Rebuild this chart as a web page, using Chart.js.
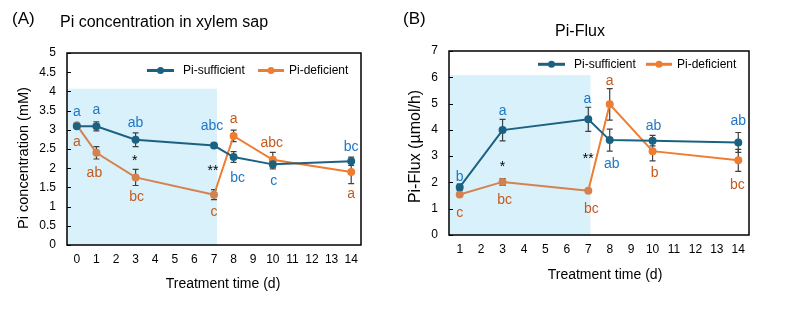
<!DOCTYPE html>
<html>
<head>
<meta charset="utf-8">
<script src="https://cdn.jsdelivr.net/npm/chart.js@4/dist/chart.umd.min.js"></script>
<style>
    body { margin: 0; background: #ffffff; }
    #wrap { position: relative; width: 809px; height: 328px; }
    #chart_conc { position: absolute; left: 0; top: 0; }
    #chart_flux { position: absolute; left: 400px; top: 0; }
</style>
</head>
<body>
<div id="wrap">
    <canvas id="chart_conc" width="400" height="328"></canvas>
    <canvas id="chart_flux" width="409" height="328"></canvas>
</div>
<script>
'use strict';

/******************************************************************************************
DATA
******************************************************************************************/

// (A) Pi concentration in xylem sap, mM
var days_conc = [0, 1, 3, 7, 8, 10, 14];
var conc_sufficient = [3.09, 3.09, 2.74, 2.59, 2.29, 2.10, 2.18];
var conc_sufficient_err = [0.03, 0.12, 0.18, 0.06, 0.14, 0.12, 0.11];
var conc_deficient = [3.12, 2.40, 1.76, 1.31, 2.84, 2.22, 1.90];
var conc_deficient_err = [0.03, 0.16, 0.21, 0.13, 0.15, 0.19, 0.30];
var conc_letters_sufficient = ['a', 'a', 'ab', 'abc', 'bc', 'c', 'bc'];
var conc_letters_deficient = ['a', 'ab', 'bc', 'c', 'a', 'abc', 'a'];
var conc_stars = ['', '', '*', '**', '', '', ''];
var conc_x_ticks = [0, 1, 2, 3, 4, 5, 6, 7, 8, 9, 10, 11, 12, 13, 14];
var conc_y_ticks = [0, 0.5, 1, 1.5, 2, 2.5, 3, 3.5, 4, 4.5, 5];

// (B) Pi-Flux, umol/h
var days_flux = [1, 3, 7, 8, 10, 14];
var flux_sufficient = [1.82, 3.99, 4.40, 3.61, 3.59, 3.52];
var flux_sufficient_err = [0.12, 0.41, 0.46, 0.42, 0.20, 0.38];
var flux_deficient = [1.54, 2.02, 1.68, 4.97, 3.19, 2.84];
var flux_deficient_err = [0.05, 0.13, 0.05, 0.60, 0.37, 0.42];
var flux_letters_sufficient = ['b', 'a', 'a', 'ab', 'ab', 'ab'];
var flux_letters_deficient = ['c', 'bc', 'bc', 'a', 'b', 'bc'];
var flux_stars = ['', '*', '**', '', '', ''];
var flux_x_ticks = [1, 2, 3, 4, 5, 6, 7, 8, 9, 10, 11, 12, 13, 14];
var flux_y_ticks = [0, 1, 2, 3, 4, 5, 6, 7];

// Pi-deficient treatment period (shaded), day 0 to day 7
var treatment_end_day = 7;


/******************************************************************************************
STYLE
******************************************************************************************/

var FONT = '"Liberation Sans", Arial, sans-serif';
var TEAL = '#1b6282';
var ORANGE = '#ee7d31';
var ORANGE_SHADED = '#d5824f';
var LETTER_BLUE = '#1f77c6';
var LETTER_ORANGE = '#c65a1c';
var ERR_COLOR = '#404040';
var SHADE = '#d9f1fa';


/******************************************************************************************
HELPERS
******************************************************************************************/

function to_points(xs, ys) {
    return xs.map(function(x, i) { return { x: x, y: ys[i] }; });
}

function draw_error_bars(chart, days, values, errors) {
    var c = chart.ctx, sx = chart.scales.x, sy = chart.scales.y;
    c.save();
    c.strokeStyle = ERR_COLOR;
    c.lineWidth = 1.2;
    for (var i = 0; i < days.length; i++) {
        var x = sx.getPixelForValue(days[i]);
        var y1 = sy.getPixelForValue(values[i] + errors[i]);
        var y2 = sy.getPixelForValue(values[i] - errors[i]);
        c.beginPath();
        c.moveTo(x, y1); c.lineTo(x, y2);
        c.moveTo(x - 3, y1); c.lineTo(x + 3, y1);
        c.moveTo(x - 3, y2); c.lineTo(x + 3, y2);
        c.stroke();
    }
    c.restore();
}

function draw_letters(chart, days, values, letters, offsets, color) {
    var c = chart.ctx, sx = chart.scales.x, sy = chart.scales.y;
    c.save();
    c.fillStyle = color;
    c.font = '14px ' + FONT;
    c.textAlign = 'center';
    c.textBaseline = 'middle';
    for (var i = 0; i < days.length; i++) {
        c.fillText(letters[i], sx.getPixelForValue(days[i]) + offsets[i][0], sy.getPixelForValue(values[i]) + offsets[i][1]);
    }
    c.restore();
}

function draw_stars(chart, days, v1, v2, stars, offsets) {
    var c = chart.ctx, sx = chart.scales.x, sy = chart.scales.y;
    c.save();
    c.fillStyle = '#000000';
    c.font = '14px ' + FONT;
    c.textAlign = 'center';
    c.textBaseline = 'middle';
    for (var i = 0; i < days.length; i++) {
        if (!stars[i]) continue;
        var mid = (v1[i] + v2[i]) / 2;                                                        // between both series
        c.fillText(stars[i], sx.getPixelForValue(days[i]) + offsets[i][0], sy.getPixelForValue(mid) + offsets[i][1]);
    }
    c.restore();
}

function draw_legend_item(c, item) {
    c.strokeStyle = item.color;
    c.lineWidth = 3;
    c.beginPath();
    c.moveTo(item.x0, item.y); c.lineTo(item.x1, item.y);
    c.stroke();
    c.fillStyle = item.color;
    c.beginPath();
    c.arc((item.x0 + item.x1) / 2, item.y, 3.5, 0, Math.PI * 2);
    c.fill();
    c.fillStyle = '#000000';
    c.font = '12px ' + FONT;
    c.textAlign = 'left';
    c.textBaseline = 'middle';
    c.fillText(item.text, item.tx, item.y);
}

// everything that is not a plain line: shading, error bars, frame, letters, titles, legend
function make_extras(p) {
    return {
        id: 'extras',
        beforeDatasetsDraw: function(chart) {
            var c = chart.ctx, a = chart.chartArea, sx = chart.scales.x, sy = chart.scales.y;
            var x_end = sx.getPixelForValue(treatment_end_day + p.shade_extra);
            var y_top = sy.getPixelForValue(p.shade_top);
            c.save();
            c.fillStyle = SHADE;
            c.fillRect(a.left, y_top, x_end - a.left, a.bottom - y_top);
            c.restore();
            draw_error_bars(chart, p.days, p.suf, p.suf_err);
            draw_error_bars(chart, p.days, p.def, p.def_err);
        },
        afterDatasetsDraw: function(chart) {
            var c = chart.ctx, a = chart.chartArea, sy = chart.scales.y;
            c.save();
            // inner y tick marks
            c.strokeStyle = '#000000';
            c.lineWidth = 1;
            sy.ticks.forEach(function(t) {
                var y = Math.round(sy.getPixelForValue(t.value)) + 0.5;
                c.beginPath(); c.moveTo(a.left, y); c.lineTo(a.left + 4, y); c.stroke();
            });
            // frame
            c.lineWidth = 1.5;
            c.strokeRect(a.left, a.top, a.right - a.left, a.bottom - a.top);
            c.restore();
            draw_letters(chart, p.days, p.suf, p.suf_letters, p.suf_offsets, LETTER_BLUE);
            draw_letters(chart, p.days, p.def, p.def_letters, p.def_offsets, LETTER_ORANGE);
            draw_stars(chart, p.days, p.suf, p.def, p.stars, p.star_offsets);
        },
        afterDraw: function(chart) {
            var c = chart.ctx;
            c.save();
            c.fillStyle = '#000000';
            c.textBaseline = 'alphabetic';
            // panel tag and title
            c.font = '17px ' + FONT;
            c.textAlign = 'left';
            c.fillText(p.tag, p.tag_x, 23.5);
            c.font = '16px ' + FONT;
            c.textAlign = p.title_align;
            c.fillText(p.title, p.title_x, p.title_y);
            // axis titles
            c.font = '14px ' + FONT;
            c.textAlign = 'center';
            c.textBaseline = 'middle';
            c.fillText('Treatment time (d)', p.x_title_x, p.x_title_y);
            c.save();
            c.translate(p.y_title_x, p.y_title_y);
            c.rotate(-Math.PI / 2);
            c.font = p.y_title_size + 'px ' + FONT;
            c.fillText(p.y_title, 0, 0);
            c.restore();
            // legend
            draw_legend_item(c, { x0: p.leg_x, x1: p.leg_x + 27, y: p.leg_y, color: TEAL, text: 'Pi-sufficient', tx: p.leg_x + 36 });
            draw_legend_item(c, { x0: p.leg_x2, x1: p.leg_x2 + 26, y: p.leg_y, color: ORANGE, text: 'Pi-deficient', tx: p.leg_x2 + 31 });
            c.restore();
        }
    };
}

function make_chart(canvas_id, p) {
    var ctx = document.getElementById(canvas_id).getContext('2d');
    var tick_font = { family: FONT, size: 12 };
    return new Chart(ctx, {
        type: 'line',
        data: {
            datasets: [{
                label: 'Pi-sufficient',
                data: to_points(p.days, p.suf),
                borderColor: TEAL,
                backgroundColor: TEAL,
                pointBackgroundColor: TEAL,
                pointBorderColor: TEAL,
                borderWidth: 2,
                pointRadius: 3,
                tension: 0
            }, {
                label: 'Pi-deficient',
                data: to_points(p.days, p.def),
                borderColor: ORANGE,
                backgroundColor: ORANGE,
                // muted orange inside the shaded treatment period
                segment: {
                    borderColor: function(s) { return s.p1.parsed.x <= treatment_end_day ? ORANGE_SHADED : ORANGE; }
                },
                pointBackgroundColor: function(c) { return c.parsed && c.parsed.x <= treatment_end_day ? ORANGE_SHADED : ORANGE; },
                pointBorderColor: function(c) { return c.parsed && c.parsed.x <= treatment_end_day ? ORANGE_SHADED : ORANGE; },
                borderWidth: 2,
                pointRadius: 3,
                tension: 0
            }]
        },
        options: {
            responsive: false,
            animation: false,
            layout: { padding: p.padding },
            plugins: { legend: { display: false }, tooltip: { enabled: false } },
            scales: {
                x: {
                    type: 'linear',
                    min: p.x_ticks[0] - 0.5,
                    max: p.x_ticks[p.x_ticks.length - 1] + 0.5,
                    afterBuildTicks: function(s) { s.ticks = p.x_ticks.map(function(v) { return { value: v }; }); },
                    afterFit: function(s) { s.height = p.x_height; },
                    grid: { display: false, drawTicks: false },
                    border: { display: false },
                    ticks: { font: tick_font, color: '#000000', padding: 7, autoSkip: false, maxRotation: 0 }
                },
                y: {
                    min: 0,
                    max: p.y_ticks[p.y_ticks.length - 1],
                    afterBuildTicks: function(s) { s.ticks = p.y_ticks.map(function(v) { return { value: v }; }); },
                    afterFit: function(s) { s.width = p.y_width; },
                    grid: { display: false, drawTicks: false },
                    border: { display: false },
                    ticks: {
                        font: tick_font, color: '#000000', padding: 11,
                        callback: function(value) { return String(Math.round(value * 10) / 10); }
                    }
                }
            }
        },
        plugins: [make_extras(p)]
    });
}


/******************************************************************************************
PLOTS
******************************************************************************************/

make_chart('chart_conc', {
    days: days_conc,
    suf: conc_sufficient, suf_err: conc_sufficient_err,
    def: conc_deficient, def_err: conc_deficient_err,
    suf_letters: conc_letters_sufficient, def_letters: conc_letters_deficient, stars: conc_stars,
    suf_offsets: [[0, -14], [0, -16], [0, -17], [-2, -19], [4, 21], [1, 17], [0, -14]],
    def_offsets: [[0, 17], [-2, 20], [1, 20], [0, 17], [0, -17], [-1, -17], [0, 22]],
    star_offsets: [[0, 0], [0, 0], [-1, 3], [-1, 1], [0, 0], [0, 0], [0, 0]],
    x_ticks: conc_x_ticks, y_ticks: conc_y_ticks,
    padding: { left: 0, right: 39, top: 53, bottom: 0 },
    y_width: 67, x_height: 83,
    shade_extra: 0.15, shade_top: 4.07,
    tag: '(A)', tag_x: 12,
    title: 'Pi concentration in xylem sap', title_x: 60, title_y: 26.5, title_align: 'left',
    x_title_x: 223, x_title_y: 284,
    y_title: 'Pi concentration (mM)', y_title_x: 24, y_title_y: 158, y_title_size: 14.5,
    leg_x: 147, leg_x2: 258, leg_y: 70.5
});

make_chart('chart_flux', {
    days: days_flux,
    suf: flux_sufficient, suf_err: flux_sufficient_err,
    def: flux_deficient, def_err: flux_deficient_err,
    suf_letters: flux_letters_sufficient, def_letters: flux_letters_deficient, stars: flux_stars,
    suf_offsets: [[0, -10], [0, -19], [-1, -20], [2, 24], [1, -14], [0, -21]],
    def_offsets: [[0, 19], [2, 18], [3, 18], [0, -23], [2, 22], [-1, 25]],
    star_offsets: [[0, 0], [0, 11], [0, 4], [0, 0], [0, 0], [0, 0]],
    x_ticks: flux_x_ticks, y_ticks: flux_y_ticks,
    padding: { left: 0, right: 60, top: 51, bottom: 0 },
    y_width: 49, x_height: 93,
    shade_extra: 0.1, shade_top: 6.08,
    tag: '(B)', tag_x: 3,
    title: 'Pi-Flux', title_x: 180, title_y: 36, title_align: 'center',
    x_title_x: 205, x_title_y: 275,
    y_title: 'Pi-Flux (µmol/h)', y_title_x: 15.5, y_title_y: 146.5, y_title_size: 16,
    leg_x: 138, leg_x2: 246, leg_y: 64.3
});
</script>
</body>
</html>
